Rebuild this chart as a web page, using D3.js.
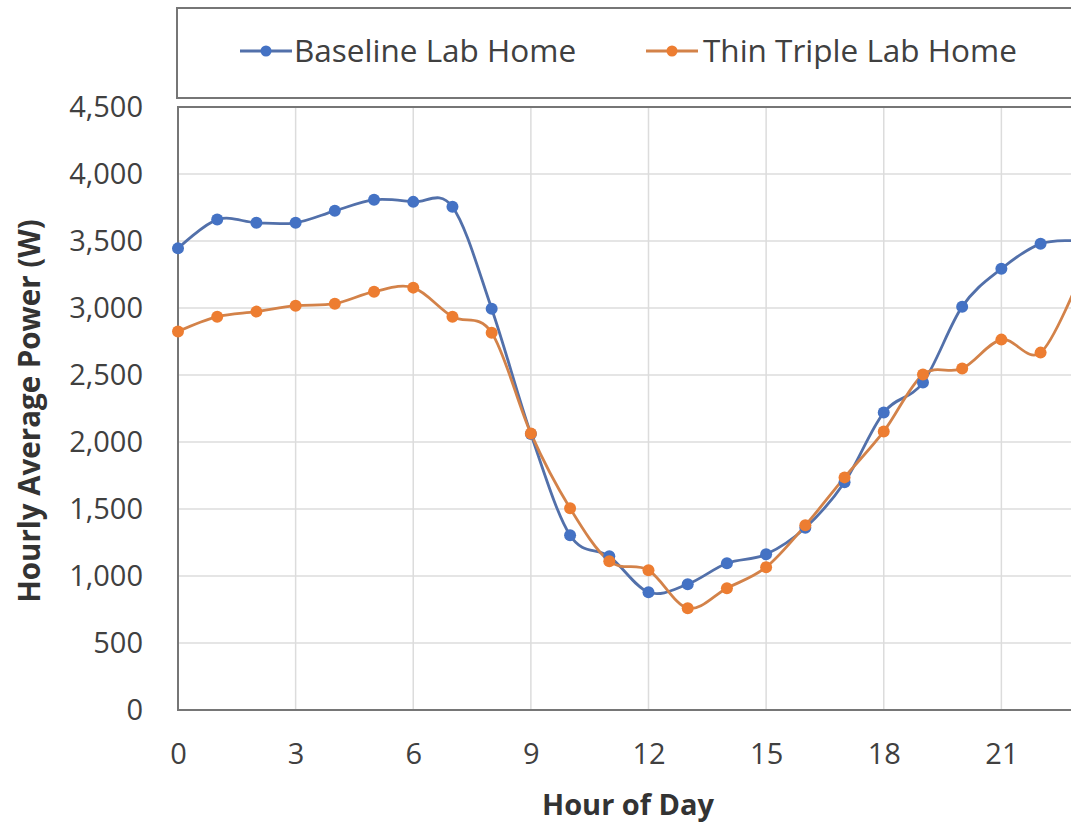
<!DOCTYPE html>
<html>
<head>
<meta charset="utf-8">
<script src="https://cdn.jsdelivr.net/npm/d3@7"></script>
<style>
  html, body { margin: 0; padding: 0; background: #fff; }
  svg { display: block; }
  text { font-family: "Open Sans", "Noto Sans", sans-serif; }
</style>
</head>
<body>
<svg id="chart" width="1071" height="826"></svg>
<script>
const hours = [0,1,2,3,4,5,6,7,8,9,10,11,12,13,14,15,16,17,18,19,20,21,22,23];
const baseline = [3445,3660,3636,3636,3725,3807,3792,3755,2995,2060,1304,1147,879,939,1095,1162,1360,1700,2220,2444,3010,3293,3479,3500];
const thinTriple = [2824,2935,2973,3017,3032,3122,3152,2935,2816,2064,1505,1110,1043,760,909,1066,1378,1736,2079,2503,2548,2764,2667,3230];
const seriesNames = ["Baseline Lab Home", "Thin Triple Lab Home"];
const yTicks = [0,500,1000,1500,2000,2500,3000,3500,4000,4500];
const xTicks = [0,3,6,9,12,15,18,21];

const markerColors = ["#4472C4", "#ED7D31"];
const lineColors = ["#5270aa", "#d38249"];

const svg = d3.select("#chart");
const m = { left: 178, top: 107, right: 1119, bottom: 710 };

const x = d3.scaleLinear().domain([0, 24]).range([m.left, m.right]);
const y = d3.scaleLinear().domain([0, 4500]).range([m.bottom, m.top]);

// gridlines
svg.append("g").selectAll("line.h").data(yTicks).join("line")
  .attr("x1", m.left).attr("x2", m.right)
  .attr("y1", d => y(d)).attr("y2", d => y(d))
  .attr("stroke", "#dcdcdc").attr("stroke-width", 1.5);
svg.append("g").selectAll("line.v").data(xTicks.concat([24])).join("line")
  .attr("x1", d => x(d)).attr("x2", d => x(d))
  .attr("y1", m.top).attr("y2", m.bottom)
  .attr("stroke", "#dcdcdc").attr("stroke-width", 1.5);

// plot border
svg.append("rect")
  .attr("x", m.left).attr("y", m.top)
  .attr("width", m.right - m.left).attr("height", m.bottom - m.top)
  .attr("fill", "none").attr("stroke", "#767676").attr("stroke-width", 2);

// y axis labels
const yAxis = d3.axisLeft(y).tickValues(yTicks).tickFormat(d3.format(",")).tickSize(0).tickPadding(35);
const ya = svg.append("g").attr("transform", `translate(${m.left},0)`).call(yAxis);
ya.select(".domain").remove();
ya.selectAll("text").attr("font-size", 29).attr("fill", "#404040")
  .attr("font-family", '"Open Sans", sans-serif');

// x axis labels
const xAxis = d3.axisBottom(x).tickValues(xTicks).tickFormat(d3.format("d")).tickSize(0).tickPadding(33);
const xa = svg.append("g").attr("transform", `translate(0,${m.bottom})`).call(xAxis);
xa.select(".domain").remove();
xa.selectAll("text").attr("font-size", 29).attr("fill", "#404040")
  .attr("font-family", '"Open Sans", sans-serif');

// axis titles
svg.append("text")
  .attr("x", 628).attr("y", 815)
  .attr("text-anchor", "middle")
  .attr("font-size", 29).attr("font-weight", "bold").attr("fill", "#333")
  .text("Hour of Day");
svg.append("text")
  .attr("transform", "translate(40,411) rotate(-90)")
  .attr("text-anchor", "middle")
  .attr("font-size", 29.5).attr("font-weight", "bold").attr("fill", "#333")
  .text("Hourly Average Power (W)");

// series
const series = [baseline, thinTriple];
const line = d3.line().x((d, i) => x(hours[i])).y(d => y(d)).curve(d3.curveCardinal.tension(0));
series.forEach((vals, si) => {
  svg.append("path").datum(vals)
    .attr("d", line)
    .attr("fill", "none")
    .attr("stroke", lineColors[si]).attr("stroke-width", 2.8);
});
series.forEach((vals, si) => {
  svg.append("g").selectAll("circle").data(vals).join("circle")
    .attr("cx", (d, i) => x(hours[i])).attr("cy", d => y(d))
    .attr("r", 6).attr("fill", markerColors[si]);
});

// legend
svg.append("rect")
  .attr("x", 177).attr("y", 8).attr("width", 1000).attr("height", 90)
  .attr("fill", "#fff").attr("stroke", "#767676").attr("stroke-width", 2);
const legendItems = [
  { lx: 240, tx: 294 },
  { lx: 646, tx: 703 }
];
seriesNames.forEach((name, i) => {
  const g = svg.append("g");
  const ly = 51;
  g.append("line").attr("x1", legendItems[i].lx).attr("x2", legendItems[i].lx + 52)
    .attr("y1", ly).attr("y2", ly)
    .attr("stroke", lineColors[i]).attr("stroke-width", 2.8);
  g.append("circle").attr("cx", legendItems[i].lx + 26).attr("cy", ly).attr("r", 5.5)
    .attr("fill", markerColors[i]);
  g.append("text").attr("x", legendItems[i].tx).attr("y", ly + 11)
    .attr("font-size", 31.5).attr("fill", "#404040")
    .text(name);
});
</script>
</body>
</html>
